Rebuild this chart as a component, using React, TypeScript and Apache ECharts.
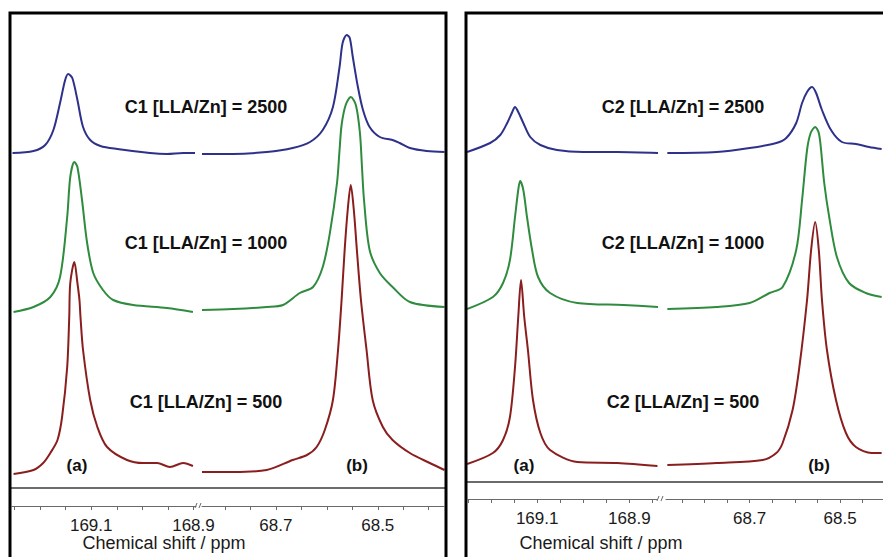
import React, { useEffect, useRef } from "react";
import * as echarts from "echarts";

type P = [number, number];

// Spectra: [chemical shift (ppm), intensity above own baseline]
const C1_2500: P[] = [
  [169.254, 0], [169.213, 2], [169.19, 8], [169.174, 23], [169.161, 50], [169.151, 73], [169.145, 79],
  [169.137, 75], [169.127, 53], [169.116, 26], [169.102, 13], [169.082, 7], [169.049, 4], [168.985, 0],
  [168.952, -1], [168.92, 0], [168.897, 0],
  [68.845, -1], [68.784, -1], [68.718, 1], [68.667, 5], [68.633, 11], [68.608, 23], [68.588, 46],
  [68.575, 86], [68.569, 110], [68.561, 118], [68.555, 115], [68.549, 96], [68.539, 66], [68.529, 43],
  [68.516, 26], [68.496, 16], [68.471, 13], [68.457, 10], [68.437, 5], [68.404, 2], [68.369, 1],
];
const C1_1000: P[] = [
  [169.252, -2], [169.213, 3], [169.18, 13], [169.161, 33], [169.147, 93], [169.141, 133], [169.133, 148],
  [169.127, 143], [169.118, 110], [169.108, 67], [169.096, 37], [169.077, 20], [169.057, 10], [169.018, 5],
  [168.952, 2], [168.901, -2],
  [68.845, 0], [68.784, 1], [68.718, 3], [68.686, 5], [68.653, 17], [68.627, 23], [68.608, 43], [68.594, 77],
  [68.58, 127], [68.575, 160], [68.571, 185], [68.563, 205], [68.553, 213], [68.543, 205], [68.535, 177],
  [68.531, 143], [68.527, 110], [68.516, 60], [68.496, 37], [68.471, 23], [68.437, 8], [68.369, 3],
];
const C1_500: P[] = [
  [169.252, -2], [169.213, 2], [169.194, 9], [169.18, 19], [169.166, 32], [169.157, 55], [169.147, 105],
  [169.143, 155], [169.141, 189], [169.133, 210], [169.127, 189], [169.123, 172], [169.121, 155],
  [169.116, 122], [169.102, 72], [169.088, 45], [169.069, 25], [169.03, 12], [168.998, 9], [168.971, 9],
  [168.946, 5], [168.92, 9], [168.901, 6],
  [68.845, 0], [68.784, 0], [68.718, 2], [68.667, 12], [68.639, 17], [68.62, 25], [68.604, 42], [68.588, 72],
  [68.578, 122], [68.571, 172], [68.565, 222], [68.559, 262], [68.553, 287], [68.547, 262], [68.541, 222],
  [68.533, 172], [68.522, 122], [68.51, 72], [68.49, 45], [68.471, 32], [68.437, 19], [68.398, 9], [68.369, 2],
];
const C2_2500: P[] = [
  [169.252, 0], [169.202, 9], [169.18, 17], [169.165, 29], [169.154, 40], [169.148, 45], [169.141, 40],
  [169.13, 29], [169.115, 15], [169.093, 7], [169.057, 2], [169.0, 0], [168.926, 0], [168.837, -1],
  [68.882, -1], [68.773, 0], [68.7, 4], [68.641, 9], [68.619, 14], [68.597, 29], [68.584, 49], [68.573, 60],
  [68.562, 65], [68.553, 59], [68.54, 42], [68.52, 22], [68.496, 10], [68.465, 8], [68.436, 5], [68.408, 3],
];
const C2_1000: P[] = [
  [169.252, -1], [169.196, 11], [169.174, 25], [169.159, 48], [169.148, 91], [169.141, 118], [169.137, 127],
  [169.13, 118], [169.122, 91], [169.111, 58], [169.098, 31], [169.072, 15], [169.013, 5], [168.913, 3],
  [168.837, 1],
  [68.882, -1], [68.773, 1], [68.7, 5], [68.656, 15], [68.627, 21], [68.597, 58], [68.584, 108], [68.573, 158],
  [68.565, 175], [68.555, 181], [68.547, 175], [68.542, 158], [68.535, 125], [68.524, 91], [68.507, 51],
  [68.48, 25], [68.443, 15], [68.408, 11],
];
const C2_500: P[] = [
  [169.252, 1], [169.196, 12], [169.174, 25], [169.159, 48], [169.148, 98], [169.141, 148], [169.135, 185],
  [169.128, 148], [169.12, 115], [169.109, 65], [169.093, 32], [169.072, 15], [169.013, 3], [168.926, 2],
  [168.839, -1],
  [68.882, 0], [68.773, 2], [68.671, 5], [68.641, 12], [68.627, 22], [68.605, 55], [68.59, 98], [68.573, 165],
  [68.564, 215], [68.555, 243], [68.547, 215], [68.54, 165], [68.529, 115], [68.509, 65], [68.487, 32],
  [68.465, 18], [68.43, 12], [68.408, 12],
];

const CATALYSTS = ["C1", "C2"];
const RATIOS = [2500, 1000, 500];
const SPECTRA: P[][][] = [
  [C1_2500, C1_1000, C1_500],
  [C2_2500, C2_1000, C2_500],
];
const TICKS_HIGH = [169.25, 169.2, 169.15, 169.1, 169.05, 169.0, 168.95, 168.9, 168.85];
const LABELS_HIGH = [169.1, 168.9];
const TICKS_LOW = [68.85, 68.8, 68.75, 68.7, 68.65, 68.6, 68.55, 68.5, 68.45, 68.4];
const LABELS_LOW = [68.7, 68.5];
const X_TITLE = "Chemical shift / ppm";
const PEAK_NAMES = ["(a)", "(b)"];

const COLORS = ["#2d3189", "#2f8b3d", "#8a1e1e"];
const FONT = "Liberation Sans, Arial, sans-serif";

// layout
const PANELS = [
  { top: 14, bottom: 488, axisOffset: 18, offsets: [335, 178, 16], labelX: 206, titleX: 164, peakX: [77, 357],
    frame: [[10, 560], [10, 13], [446, 13], [446, 560]], hline: [11, 445], brk: 198 },
  { top: 14, bottom: 482, axisOffset: 17, offsets: [330, 174, 17], labelX: 683, titleX: 601, peakX: [524, 819],
    frame: [[466, 560], [466, 13], [890, 13]], hline: [467, 883], brk: 660 },
];
const SEGMENTS = [
  { panel: 0, high: true, left: 12, width: 184, min: 168.895, max: 169.255 },
  { panel: 0, high: false, left: 202, width: 242, min: 68.37, max: 68.845 },
  { panel: 1, high: true, left: 468, width: 189, min: 168.84, max: 169.25 },
  { panel: 1, high: false, left: 666, width: 218, min: 68.405, max: 68.885 },
];
const LABEL_Y = [107, 243, 402];

export default function App() {
  const ref = useRef<HTMLDivElement>(null);
  useEffect(() => {
    if (!ref.current) return;
    const chart = echarts.init(ref.current, undefined, { renderer: "svg" });
    const grid: any[] = [];
    const xAxis: any[] = [];
    const yAxis: any[] = [];
    const series: any[] = [];
    SEGMENTS.forEach((s, i) => {
      const p = PANELS[s.panel];
      const h = p.bottom - p.top;
      grid.push({ left: s.left, width: s.width, top: p.top, height: h, containLabel: false });
      const within = (v: number) => v >= s.min - 1e-9 && v <= s.max + 1e-9;
      xAxis.push({
        type: "value", gridIndex: i, inverse: true, min: s.min, max: s.max, position: "bottom",
        offset: p.axisOffset,
        axisLine: { show: true, onZero: false, lineStyle: { color: "#6a6a6a", width: 1 } },
        axisTick: { show: true, length: 4, inside: false, customValues: (s.high ? TICKS_HIGH : TICKS_LOW).filter(within), lineStyle: { color: "#6a6a6a", width: 1 } },
        axisLabel: { show: true, customValues: (s.high ? LABELS_HIGH : LABELS_LOW).filter(within),
          formatter: (v: number) => v.toFixed(1), margin: 12, fontSize: 17, lineHeight: 14, color: "#1a1a1a", fontFamily: FONT },
        splitLine: { show: false },
      });
      yAxis.push({ type: "value", gridIndex: i, min: 0, max: h, show: false, splitLine: { show: false } });
      SPECTRA[s.panel].forEach((spec, k) => {
        const off = p.offsets[k];
        series.push({
          type: "line", xAxisIndex: i, yAxisIndex: i, symbol: "none", smooth: 0.3, clip: true,
          lineStyle: { color: COLORS[k], width: 2 }, silent: true, z: 3 - k,
          data: spec.filter((d) => (s.high ? d[0] > 100 : d[0] < 100)).map((d) => [d[0], d[1] + off]),
        });
      });
    });

    const graphic: any[] = [];
    PANELS.forEach((p, pi) => {
      graphic.push({ type: "polyline", shape: { points: p.frame }, style: { stroke: "#000", lineWidth: 3, fill: "none" }, z: 10 });
      graphic.push({ type: "line", shape: { x1: p.hline[0], y1: p.bottom, x2: p.hline[1], y2: p.bottom }, style: { stroke: "#3a3a3a", lineWidth: 1.5 } });
      const ay = p.bottom + p.axisOffset;
      graphic.push({ type: "line", shape: { x1: p.brk - 3, y1: ay + 2, x2: p.brk - 1, y2: ay - 3 }, style: { stroke: "#6a6a6a", lineWidth: 1 } });
      graphic.push({ type: "line", shape: { x1: p.brk + 1, y1: ay + 2, x2: p.brk + 3, y2: ay - 3 }, style: { stroke: "#6a6a6a", lineWidth: 1 } });
      graphic.push({ type: "text", x: p.titleX, y: 543, style: { text: X_TITLE, fontSize: 18, lineHeight: 14, fontFamily: FONT, fill: "#1a1a1a", align: "center", verticalAlign: "middle" } });
      RATIOS.forEach((r, k) => {
        graphic.push({ type: "text", x: p.labelX, y: LABEL_Y[k], style: { text: `${CATALYSTS[pi]} [LLA/Zn] = ${r}`, fontSize: 18, fontWeight: "bold", fontFamily: FONT, fill: "#111", align: "center", verticalAlign: "middle" } });
      });
      PEAK_NAMES.forEach((n, j) => {
        graphic.push({ type: "text", x: p.peakX[j], y: 465, style: { text: n, fontSize: 17, fontWeight: "bold", fontFamily: FONT, fill: "#111", align: "center", verticalAlign: "middle" } });
      });
    });

    chart.setOption({ animation: false, backgroundColor: "#fff", grid, xAxis, yAxis, series, graphic });
    return () => chart.dispose();
  }, []);
  return <div ref={ref} style={{ position: "absolute", left: 0, top: 0, width: 883, height: 557 }} />;
}
